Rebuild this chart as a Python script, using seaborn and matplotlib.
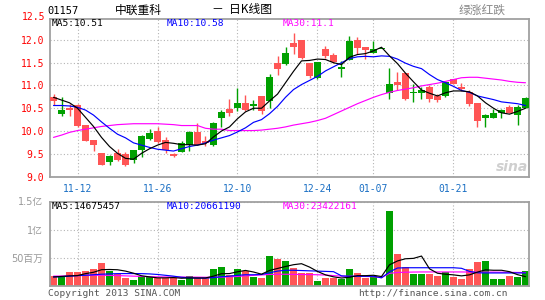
import numpy as np
import pandas as pd
import matplotlib
matplotlib.use("Agg")
import matplotlib.pyplot as plt
import seaborn as sns

# ---------------- data ----------------
stock_code = "01157"
stock_name = "中联重科"
title_tail = "－  日K线图"
legend_note = "绿涨红跌"

opens = [10.75, 10.37, 10.51, 10.57, 10.13, 9.80, 9.52, 9.31, 9.52, 9.49,
         9.36, 9.59, 9.82, 10.00, 9.80, 9.49, 9.55, 9.69, 9.98, 9.78,
         9.69, 10.29, 10.48, 10.51, 10.62, 10.55, 10.77, 10.66, 11.49, 11.47,
         11.93, 12.00, 11.49, 11.16, 11.80, 11.67, 11.36, 11.56, 12.00, 11.85,
         11.71, 11.80, 10.84, 11.08, 11.27, 10.84, 10.84, 10.97, 10.77, 10.77,
         11.14, 10.97, 10.86, 10.62, 10.29, 10.29, 10.40, 10.53, 10.35, 10.51]
highs = [10.81, 10.75, 10.59, 10.59, 10.14, 9.80, 9.52, 9.47, 9.60, 9.54,
         9.59, 9.91, 10.04, 10.09, 9.87, 9.52, 9.78, 9.99, 10.17, 9.89,
         10.20, 10.46, 10.70, 10.95, 10.79, 10.68, 10.77, 11.25, 11.65, 11.85,
         12.15, 12.00, 11.49, 11.52, 11.87, 11.71, 11.54, 12.09, 12.07, 11.85,
         11.98, 11.80, 11.38, 11.30, 11.27, 11.03, 10.97, 11.01, 10.81, 11.10,
         11.14, 11.05, 10.90, 10.62, 10.37, 10.48, 10.48, 10.57, 10.57, 10.75]
lows = [10.57, 10.34, 10.34, 10.09, 9.77, 9.56, 9.25, 9.25, 9.35, 9.24,
        9.30, 9.44, 9.80, 9.73, 9.51, 9.42, 9.54, 9.57, 9.69, 9.66,
        9.67, 10.09, 10.33, 10.44, 10.44, 10.46, 10.37, 10.51, 11.23, 11.45,
        11.69, 11.58, 11.16, 11.14, 11.60, 11.49, 11.19, 11.55, 11.69, 11.58,
        11.71, 11.80, 10.70, 10.90, 10.69, 10.64, 10.70, 10.64, 10.64, 10.75,
        11.03, 10.88, 10.55, 10.09, 10.09, 10.29, 10.29, 10.40, 10.13, 10.51]
closes = [10.67, 10.46, 10.47, 10.12, 9.78, 9.69, 9.25, 9.46, 9.36, 9.25,
          9.58, 9.89, 9.96, 9.75, 9.58, 9.45, 9.74, 9.98, 9.69, 9.74,
          10.18, 10.42, 10.40, 10.62, 10.46, 10.59, 10.44, 11.19, 11.36, 11.71,
          11.85, 11.60, 11.21, 11.52, 11.65, 11.52, 11.41, 11.98, 11.82, 11.78,
          11.80, 11.80, 11.03, 11.01, 10.70, 10.86, 10.90, 10.70, 10.68, 11.08,
          11.03, 10.92, 10.59, 10.22, 10.35, 10.40, 10.46, 10.40, 10.53, 10.73]
# volume, millions of shares
volumes = [17.4, 16.8, 23.9, 23.9, 25.7, 29.3, 39.9, 25.7, 21.6, 13.3,
           11.0, 16.8, 15.6, 13.3, 13.3, 13.3, 11.0, 18.1, 13.3, 13.3,
           29.3, 32.8, 19.1, 29.3, 25.7, 15.1, 13.3, 52.3, 47.0, 43.4,
           31.0, 22.2, 22.2, 8.0, 13.3, 13.3, 11.5, 29.3, 22.2, 13.3,
           16.8, 0.0, 133.9, 56.4, 32.8, 20.4, 20.4, 20.4, 16.8, 23.9,
           15.1, 11.5, 29.3, 41.7, 43.4, 11.5, 11.5, 16.8, 15.1, 25.7]

ma5 = [10.74, 10.68, 10.62, 10.50, 10.30, 10.10, 9.86, 9.66, 9.51, 9.40,
       9.38, 9.51, 9.61, 9.69, 9.75, 9.73, 9.70, 9.70, 9.69, 9.72,
       9.87, 10.00, 10.09, 10.27, 10.42, 10.50, 10.50, 10.66, 10.81, 11.06,
       11.31, 11.54, 11.55, 11.58, 11.57, 11.50, 11.46, 11.62, 11.68, 11.70,
       11.76, 11.84, 11.65, 11.48, 11.27, 11.08, 10.90, 10.83, 10.77, 10.84,
       10.88, 10.88, 10.86, 10.77, 10.62, 10.50, 10.40, 10.37, 10.43, 10.50]
ma10 = [10.56, 10.56, 10.55, 10.52, 10.46, 10.35, 10.20, 10.06, 9.93, 9.85,
        9.74, 9.69, 9.64, 9.60, 9.58, 9.56, 9.61, 9.66, 9.69, 9.74,
        9.80, 9.85, 9.90, 9.98, 10.07, 10.19, 10.25, 10.38, 10.54, 10.74,
        10.91, 11.02, 11.11, 11.20, 11.32, 11.41, 11.50, 11.59, 11.63, 11.64,
        11.63, 11.65, 11.64, 11.58, 11.49, 11.42, 11.37, 11.24, 11.13, 11.06,
        10.98, 10.89, 10.85, 10.77, 10.73, 10.69, 10.64, 10.62, 10.60, 10.56]
ma30 = [9.86, 9.91, 9.97, 10.01, 10.04, 10.07, 10.10, 10.12, 10.14, 10.15,
        10.16, 10.16, 10.16, 10.16, 10.15, 10.14, 10.12, 10.12, 10.12, 10.06,
        10.04, 10.04, 10.01, 10.01, 10.01, 10.01, 10.02, 10.04, 10.06, 10.09,
        10.13, 10.16, 10.19, 10.23, 10.28, 10.36, 10.44, 10.52, 10.60, 10.67,
        10.74, 10.80, 10.85, 10.89, 10.92, 10.95, 10.99, 11.02, 11.05, 11.09,
        11.13, 11.17, 11.18, 11.18, 11.16, 11.14, 11.12, 11.09, 11.07, 11.06]

vol_ma5 = [15.6, 16.5, 17.5, 18.0, 21.5, 23.9, 28.5, 28.9, 28.4, 26.0,
           22.3, 17.7, 15.7, 14.0, 14.0, 14.5, 13.3, 13.8, 13.8, 13.8,
           17.0, 21.4, 21.6, 24.8, 27.2, 24.4, 20.5, 27.1, 30.7, 34.2,
           37.4, 39.2, 33.2, 25.4, 19.3, 15.8, 13.7, 15.1, 17.9, 17.9,
           18.6, 16.3, 37.2, 44.1, 48.0, 48.7, 52.8, 30.1, 22.2, 20.4,
           19.3, 17.5, 19.3, 24.3, 28.2, 27.5, 27.5, 25.0, 19.7, 16.1]
vol_ma10 = [15.6, 16.0, 17.0, 18.0, 18.6, 19.5, 20.5, 21.0, 21.5, 21.6,
            21.6, 21.5, 21.0, 20.0, 18.5, 17.0, 15.0, 14.0, 13.5, 13.5,
            14.5, 16.0, 17.0, 18.5, 19.5, 19.5, 20.0, 23.0, 26.0, 27.5,
            27.5, 27.0, 26.5, 26.0, 25.5, 25.0, 17.5, 16.8, 16.8, 16.8,
            16.8, 14.0, 24.5, 31.5, 32.0, 32.0, 32.0, 32.0, 32.0, 32.0,
            32.0, 31.0, 25.5, 23.0, 22.7, 22.7, 22.7, 22.7, 22.7, 22.7]
vol_ma30 = [17.0, 17.3, 17.6, 18.0, 18.3, 18.6, 18.6, 18.4, 18.0, 17.5,
            17.0, 16.5, 16.0, 15.8, 15.6, 15.5, 15.4, 15.3, 15.2, 15.0,
            15.0, 15.2, 15.8, 16.5, 17.5, 18.5, 19.2, 20.0, 20.4, 20.4,
            20.2, 20.0, 19.8, 19.5, 19.0, 18.0, 17.0, 16.8, 16.8, 16.5,
            16.0, 14.5, 22.0, 23.5, 24.0, 24.3, 24.5, 24.5, 24.5, 24.5,
            24.5, 24.5, 24.3, 24.3, 24.3, 24.2, 24.0, 23.8, 23.6, 23.4]

holidays = ["2012-12-25", "2012-12-26", "2013-01-01"]
tick_dates = ["11-12", "11-26", "12-10", "12-24", "01-07", "01-21"]
price_ticks = [9.0, 9.5, 10.0, 10.5, 11.0, 11.5, 12.0]
price_top_label = 12.5
vol_ticks = [50, 100, 150]
vol_tick_labels = ["50百万", "1亿", "1.5亿"]
price_ma_text = ["MA5:10.51", "MA10:10.58", "MA30:11.1"]
vol_ma_text = ["MA5:14675457", "MA10:20661190", "MA30:23422161"]
copyright_text = "Copyright 2013 SINA.COM"
url_text = "http://finance.sina.com.cn"

# ---------------- build table ----------------
dates = pd.bdate_range("2012-11-07", "2013-02-01")
dates = dates[~dates.isin(pd.to_datetime(holidays))]
df = pd.DataFrame({"date": dates, "open": opens, "high": highs, "low": lows,
                   "close": closes, "volume": volumes,
                   "ma5": ma5, "ma10": ma10, "ma30": ma30,
                   "vma5": vol_ma5, "vma10": vol_ma10, "vma30": vol_ma30})
df["i"] = np.arange(len(df))
df["label"] = df["date"].dt.strftime("%m-%d")
tick_pos = [int(df.index[df["label"] == d][0]) for d in tick_dates]

UP, DOWN = "#00a000", "#ff5555"
cols = np.where(df["close"] >= df["open"], UP, DOWN)

# ---------------- style ----------------
sns.set_style("white")
MONO = ["DejaVu Sans Mono", "Noto Sans CJK SC"]
CJK = ["Noto Sans CJK SC", "DejaVu Sans"]
plt.rcParams["font.family"] = MONO

W, H = 545, 300
fig = plt.figure(figsize=(W / 100, H / 100), dpi=100)
fig.patch.set_facecolor("white")


def px_axes(l, t, r, b):
    return fig.add_axes([l / W, 1 - b / H, (r - l) / W, (b - t) / H])


GRID = dict(color="#b4b4b4", ls=(0, (1, 2)), lw=0.8)
SPINE = "#a0a0a0"
XL = (-0.4375, 59.4375)
LW = 0.85

# ---------------- price panel ----------------
ax = px_axes(50, 19, 529, 177)
ax.set_facecolor("white")
ax.vlines(df["i"], df["low"], df["high"], colors=cols, lw=1.0, zorder=2)
body = np.maximum((df["close"] - df["open"]).abs(), 0.022)
ax.bar(df["i"], body, bottom=np.minimum(df["open"], df["close"]),
       width=0.82, color=cols, lw=0, zorder=3)
sns.lineplot(data=df, x="i", y="ma30", color="#ff00ff", lw=LW, ax=ax, zorder=4)
sns.lineplot(data=df, x="i", y="ma10", color="#0000ff", lw=LW, ax=ax, zorder=5)
sns.lineplot(data=df, x="i", y="ma5", color="black", lw=LW, ax=ax, zorder=6)
ax.set_xlim(*XL)
ax.set_ylim(8.99, 12.46)
ax.set_yticks(price_ticks)
ax.set_yticklabels([f"{v:.1f}" for v in price_ticks], color="#ff0000", fontsize=7)
ax.set_xticks(tick_pos)
ax.set_xticklabels(tick_dates, color="#1a6fc4", fontsize=7)
ax.tick_params(axis="y", length=0, pad=4)
ax.tick_params(axis="x", length=0, pad=5)
ax.grid(True, **GRID)
ax.set_axisbelow(True)
ax.set_xlabel("")
ax.set_ylabel("")
for s in ax.spines.values():
    s.set_color(SPINE)
    s.set_linewidth(1.3)
ax.text(-5 / 479, price_top_label, f"{price_top_label:.1f}", color="#ff0000",
        fontsize=7, ha="right", va="center", transform=ax.get_yaxis_transform())

# ---------------- volume panel ----------------
axv = px_axes(50, 201.5, 529, 285.7)
axv.set_facecolor("white")
axv.bar(df["i"], df["volume"], width=0.82, color=cols, lw=0, zorder=2)
sns.lineplot(data=df, x="i", y="vma30", color="#ff00ff", lw=LW, ax=axv, zorder=4)
sns.lineplot(data=df, x="i", y="vma10", color="#0000ff", lw=LW, ax=axv, zorder=5)
sns.lineplot(data=df, x="i", y="vma5", color="black", lw=LW, ax=axv, zorder=6)
axv.set_xlim(*XL)
axv.set_ylim(0, 150)
axv.set_yticks(vol_ticks)
axv.set_yticklabels(vol_tick_labels, color="#999999", fontsize=7)
for lbl in axv.get_yticklabels():
    lbl.set_fontfamily(["DejaVu Sans", "Noto Sans CJK SC"])
axv.set_xticks(tick_pos)
axv.set_xticklabels([])
axv.tick_params(length=0, pad=5)
axv.grid(True, **GRID)
axv.set_axisbelow(True)
axv.set_xlabel("")
axv.set_ylabel("")
for s in axv.spines.values():
    s.set_color(SPINE)
    s.set_linewidth(1.3)

# ---------------- texts ----------------
def ftxt(x, y, s, **kw):
    fig.text(x / W, 1 - y / H, s, va="center", **kw)

ftxt(47, 11, stock_code, fontsize=7.5, color="black")
ftxt(115, 10, stock_name, fontsize=8.5, color="black", family=CJK)
ftxt(212, 10, title_tail, fontsize=8.5, color="black", family=CJK)
ftxt(506, 10, legend_note, fontsize=8.5, color="#888888", family=CJK, ha="right")

ma_cols = ["black", "#0000ff", "#ff00ff"]
ma_x = [52, 167, 283]
for s, c, x in zip(price_ma_text, ma_cols, ma_x):
    ftxt(x, 24, s, fontsize=6.8, color=c)
for s, c, x in zip(vol_ma_text, ma_cols, ma_x):
    ftxt(x, 206.5, s, fontsize=6.8, color=c)

ftxt(48, 293, copyright_text, fontsize=6.8, color="#555555")
ftxt(508, 293, url_text, fontsize=6.8, color="#555555", ha="right")
ftxt(512, 167, "sina", fontsize=10, color="#cfcfcf", ha="center",
     family=["DejaVu Sans"], style="italic", weight="bold")

fig.savefig("out.png", dpi=100, facecolor="white")
